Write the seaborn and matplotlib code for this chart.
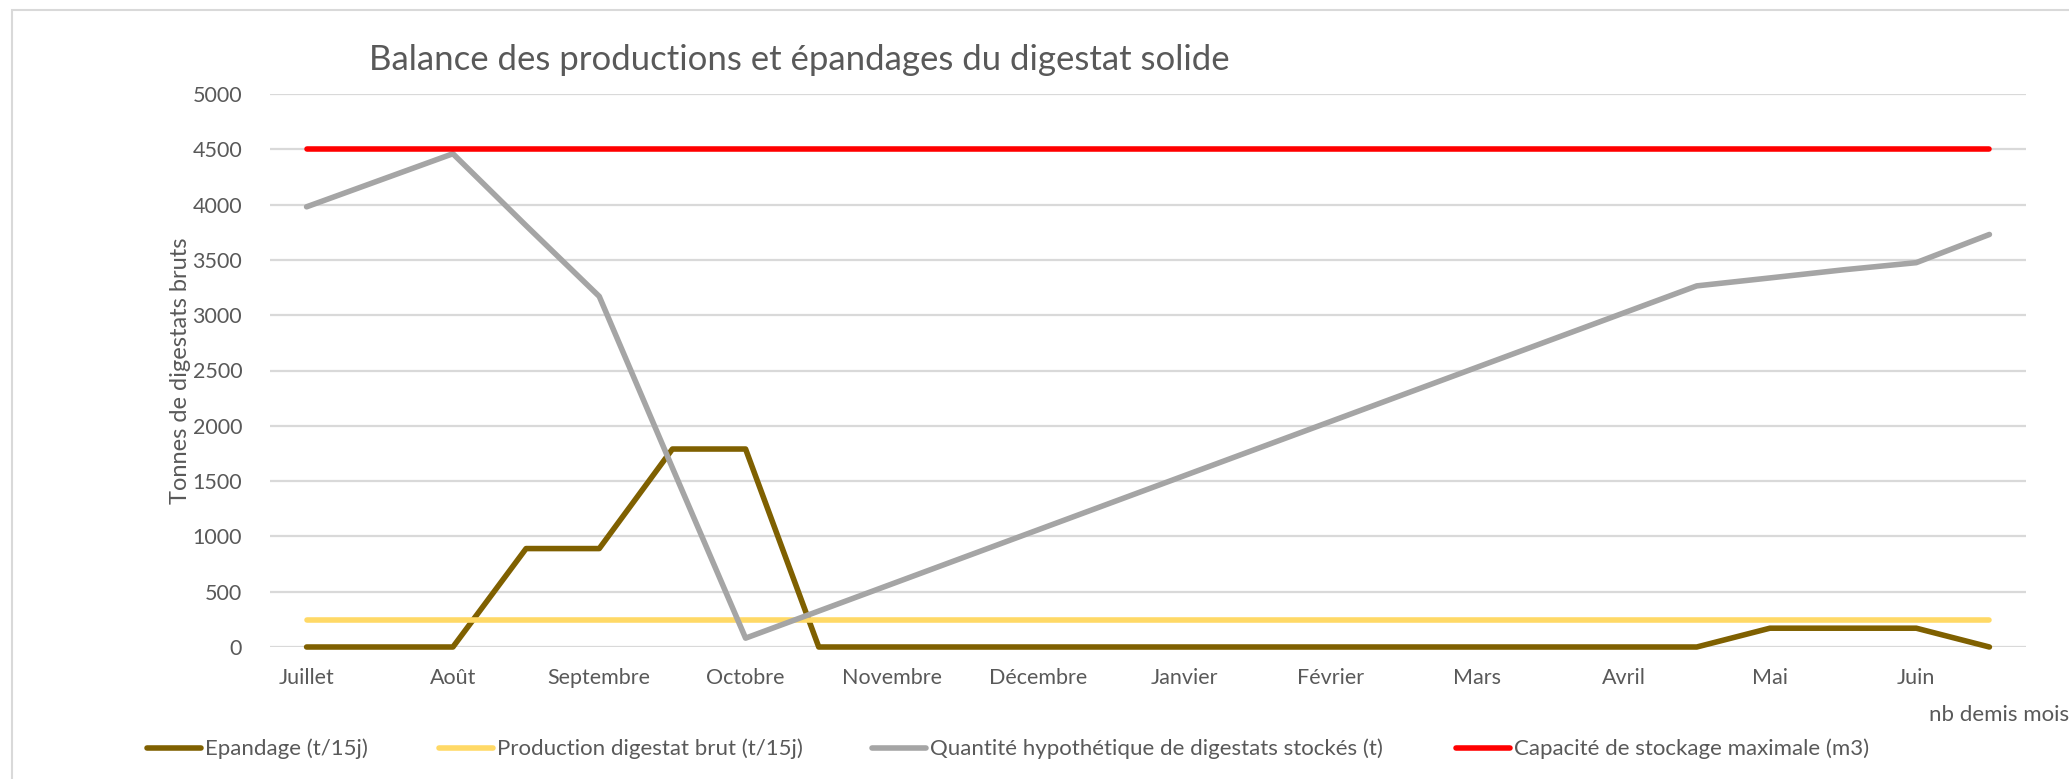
import matplotlib
matplotlib.use("Agg")
import matplotlib.pyplot as plt
from matplotlib.patches import Rectangle
import seaborn as sns
import pandas as pd

# half-month steps, Juillet -> Juin
mois = ["Juillet", "Août", "Septembre", "Octobre", "Novembre", "Décembre",
        "Janvier", "Février", "Mars", "Avril", "Mai", "Juin"]
demi_mois = list(range(24))

epandage = [0, 0, 0, 890, 890, 1790, 1790, 0, 0, 0, 0, 0,
            0, 0, 0, 0, 0, 0, 0, 0, 170, 170, 170, 0]
production = [240] * 24
stock = [3980, 4220, 4460, 3810, 3170, 1620, 80, 325, 570, 815, 1060, 1305,
         1550, 1795, 2040, 2285, 2530, 2775, 3020, 3265, 3337, 3410, 3475, 3730]
capacite = [4500] * 24

series = ["Epandage (t/15j)", "Production digestat brut (t/15j)",
          "Quantité hypothétique de digestats stockés (t)",
          "Capacité de stockage maximale (m3)"]
couleurs = ["#7F6000", "#FFD966", "#A5A5A5", "#FF0000"]

df = pd.DataFrame({"x": demi_mois * 4,
                   "y": epandage + production + stock + capacite,
                   "serie": sum([[s] * 24 for s in series], [])})

sns.set_style("white")
plt.rcParams["font.family"] = ["Lato", "DejaVu Sans"]
txt = "#595959"

fig = plt.figure(figsize=(20.69, 7.79), dpi=100)
ax = fig.add_axes([270 / 2069, 1 - 647 / 779, (2026 - 270) / 2069, (647 - 94) / 779])

# chart border (Excel style)
fig.add_artist(Rectangle((12 / 2069, -0.1), 1.2, 1 - 10 / 779 + 0.1,
                         transform=fig.transFigure, fill=False,
                         edgecolor="#D9D9D9", linewidth=1.5))

# Excel order: later series drawn on top
for i, (s, c) in enumerate(zip(series, couleurs)):
    sub = df[df.serie == s]
    sns.lineplot(data=sub, x="x", y="y", color=c, linewidth=4.0, ax=ax,
                 solid_capstyle="round", clip_on=False, zorder=3 + i)

ax.set_xlim(-0.5, 23.5)
ax.set_ylim(0, 5000)
ax.set_yticks(range(0, 5001, 500))
ax.set_xticks(demi_mois[::2])
ax.set_xticklabels(mois)
ax.grid(axis="y", color="#D9D9D9", linewidth=1.6)
ax.grid(axis="x", visible=False)
for sp in ax.spines.values():
    sp.set_visible(False)
ax.tick_params(axis="both", length=0, labelsize=15.5, colors=txt)
ax.tick_params(axis="x", pad=15)
ax.tick_params(axis="y", pad=20)
ax.set_xlabel("")
ax.set_ylabel("Tonnes de digestats bruts", fontsize=17, color=txt, labelpad=1)

fig.text(369 / 2069, 1 - 60 / 779, "Balance des productions et épandages du digestat solide",
         fontsize=25, color=txt, ha="left", va="center")
fig.text(2069 / 2069, 1 - 715 / 779, "nb demis mois", fontsize=16, color=txt,
         ha="right", va="center")

# legend entries placed along the bottom
lines = ax.get_lines()
for h, s, xpos in zip(lines, series, [147, 439, 872, 1456]):
    fig.legend([h], [s], loc="center left", bbox_to_anchor=(xpos / 2069, 1 - 749 / 779),
               frameon=False, fontsize=16, labelcolor=txt, handlelength=2.45,
               handletextpad=0.18, borderpad=0, borderaxespad=0)

fig.savefig("out.png", dpi=100, facecolor="white")
